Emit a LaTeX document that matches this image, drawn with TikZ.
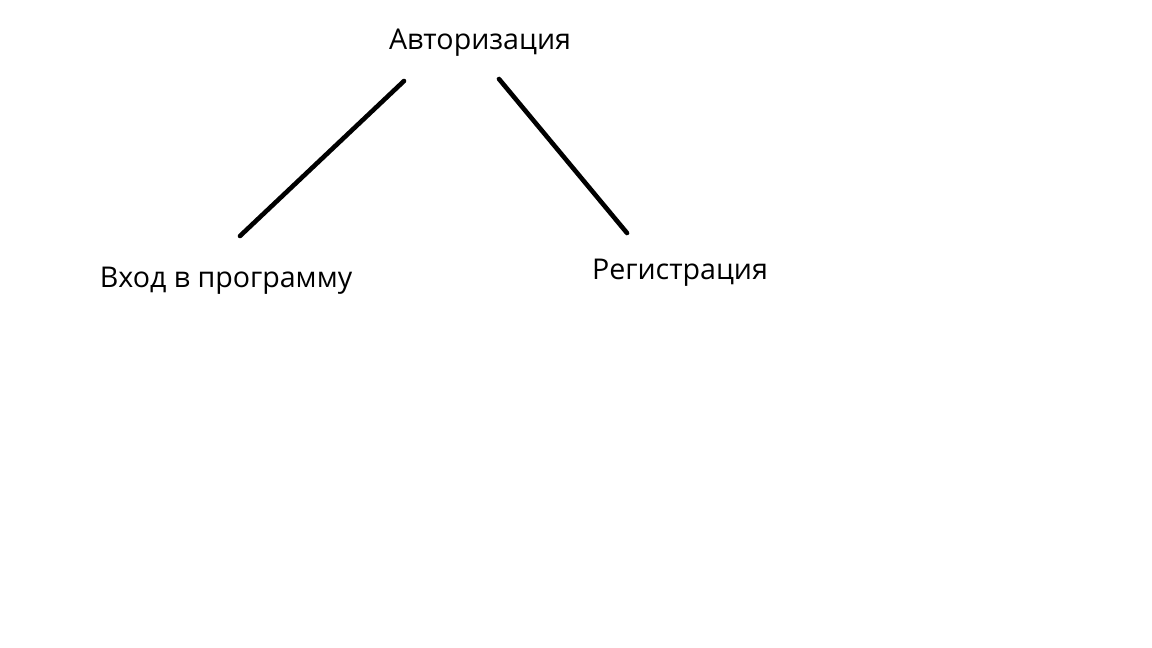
\documentclass[tikz,border=0pt]{standalone}
\usepackage{fontspec}
\setmainfont{Open Sans}
\usepackage{tikz}

\begin{document}
\begin{tikzpicture}[x=0.5pt, y=-0.5pt,
	every node/.style={font=\fontsize{14.3}{17}\selectfont, inner sep=0pt},
	link/.style={line width=2.3pt, line cap=round}]
	\useasboundingbox (0,0) rectangle (1152,648);
	\node (auth) at (480,43) {Авторизация};
	\node (login) at (226,281) {Вход в программу};
	\node (reg) at (680,273) {Регистрация};
	\coordinate (authL) at (404,81);
	\coordinate (authR) at (499,79);
	\coordinate (loginT) at (240,236);
	\coordinate (regT) at (627,233);
	\draw[link] (authL) -- (loginT);
	\draw[link] (authR) -- (regT);
\end{tikzpicture}
\end{document}
